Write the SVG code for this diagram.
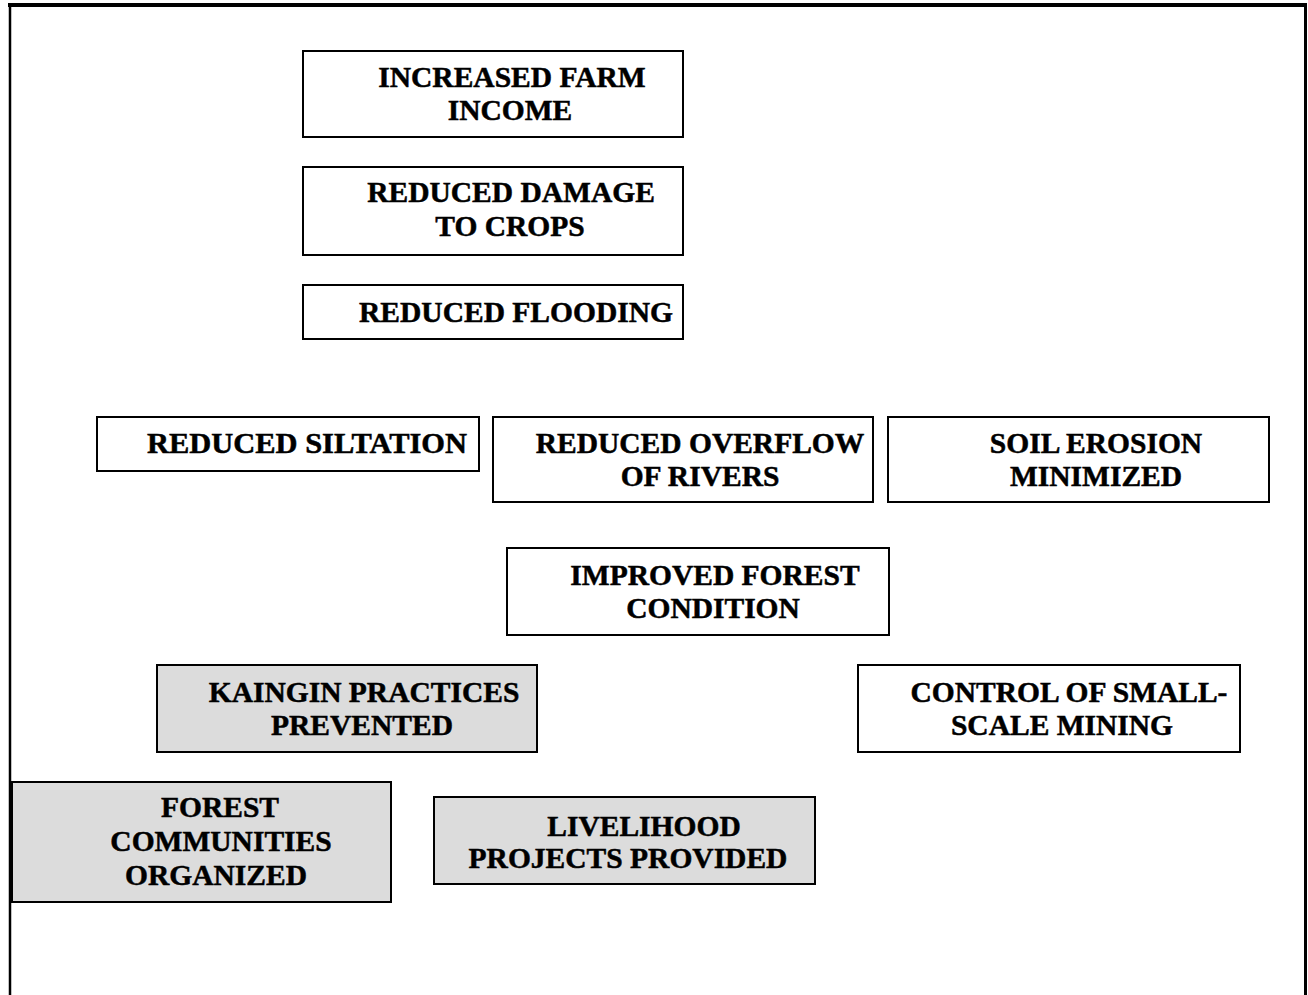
<svg xmlns="http://www.w3.org/2000/svg" width="1308" height="995" viewBox="0 0 1308 995">
  <style>
    .box { fill: #ffffff; stroke: #000000; stroke-width: 2; }
    .shaded { fill: #dcdcdc; }
    .label { font-family: "Liberation Serif", "Times New Roman", serif; font-weight: bold; font-size: 29.5px; fill: #000000; stroke: #000000; stroke-width: 0.5; text-anchor: middle; }
    .frame { fill: none; stroke: #000000; }
  </style>

  <rect width="1308" height="995" fill="#ffffff"/>

  <!-- open page frame: top, left and right edges -->
  <g id="frame">
    <line class="frame" x1="8" y1="5" x2="1307" y2="5" stroke-width="4"/>
    <line class="frame" x1="10" y1="4" x2="10" y2="995" stroke-width="2.5"/>
    <line class="frame" x1="1305.5" y1="4" x2="1305.5" y2="995" stroke-width="3"/>
  </g>

  <!-- no connectors are drawn between the boxes -->
  <g id="connectors"></g>

  <g id="increased-farm-income">
    <rect class="box" x="303" y="51" width="380" height="86"/>
    <text class="label" x="512" y="87">INCREASED FARM</text>
    <text class="label" x="510" y="120">INCOME</text>
  </g>

  <g id="reduced-damage-to-crops">
    <rect class="box" x="303" y="167" width="380" height="88"/>
    <text class="label" x="511" y="202">REDUCED DAMAGE</text>
    <text class="label" x="510" y="236">TO CROPS</text>
  </g>

  <g id="reduced-flooding">
    <rect class="box" x="303" y="285" width="380" height="54"/>
    <text class="label" x="516" y="322">REDUCED FLOODING</text>
  </g>

  <g id="reduced-siltation">
    <rect class="box" x="97" y="417" width="382" height="54"/>
    <text class="label" x="307" y="453" textLength="320" lengthAdjust="spacingAndGlyphs">REDUCED SILTATION</text>
  </g>

  <g id="reduced-overflow">
    <rect class="box" x="493" y="417" width="380" height="85"/>
    <text class="label" x="700" y="453">REDUCED OVERFLOW</text>
    <text class="label" x="700" y="486">OF RIVERS</text>
  </g>

  <g id="soil-erosion-minimized">
    <rect class="box" x="888" y="417" width="381" height="85"/>
    <text class="label" x="1096" y="453">SOIL EROSION</text>
    <text class="label" x="1096" y="486">MINIMIZED</text>
  </g>

  <g id="improved-forest-condition">
    <rect class="box" x="507" y="548" width="382" height="87"/>
    <text class="label" x="715" y="585">IMPROVED FOREST</text>
    <text class="label" x="713" y="618">CONDITION</text>
  </g>

  <g id="kaingin-practices-prevented">
    <rect class="box shaded" x="157" y="665" width="380" height="87"/>
    <text class="label" x="364" y="702">KAINGIN PRACTICES</text>
    <text class="label" x="362" y="735">PREVENTED</text>
  </g>

  <g id="control-of-small-scale-mining">
    <rect class="box" x="858" y="665" width="382" height="87"/>
    <text class="label" x="1069" y="702">CONTROL OF SMALL-</text>
    <text class="label" x="1062" y="735">SCALE MINING</text>
  </g>

  <g id="forest-communities-organized">
    <rect class="box shaded" x="12" y="782" width="379" height="120"/>
    <text class="label" x="220" y="817">FOREST</text>
    <text class="label" x="221" y="851">COMMUNITIES</text>
    <text class="label" x="216" y="885">ORGANIZED</text>
  </g>

  <g id="livelihood-projects-provided">
    <rect class="box shaded" x="434" y="797" width="381" height="87"/>
    <text class="label" x="644" y="836">LIVELIHOOD</text>
    <text class="label" x="628" y="868">PROJECTS PROVIDED</text>
  </g>
</svg>
